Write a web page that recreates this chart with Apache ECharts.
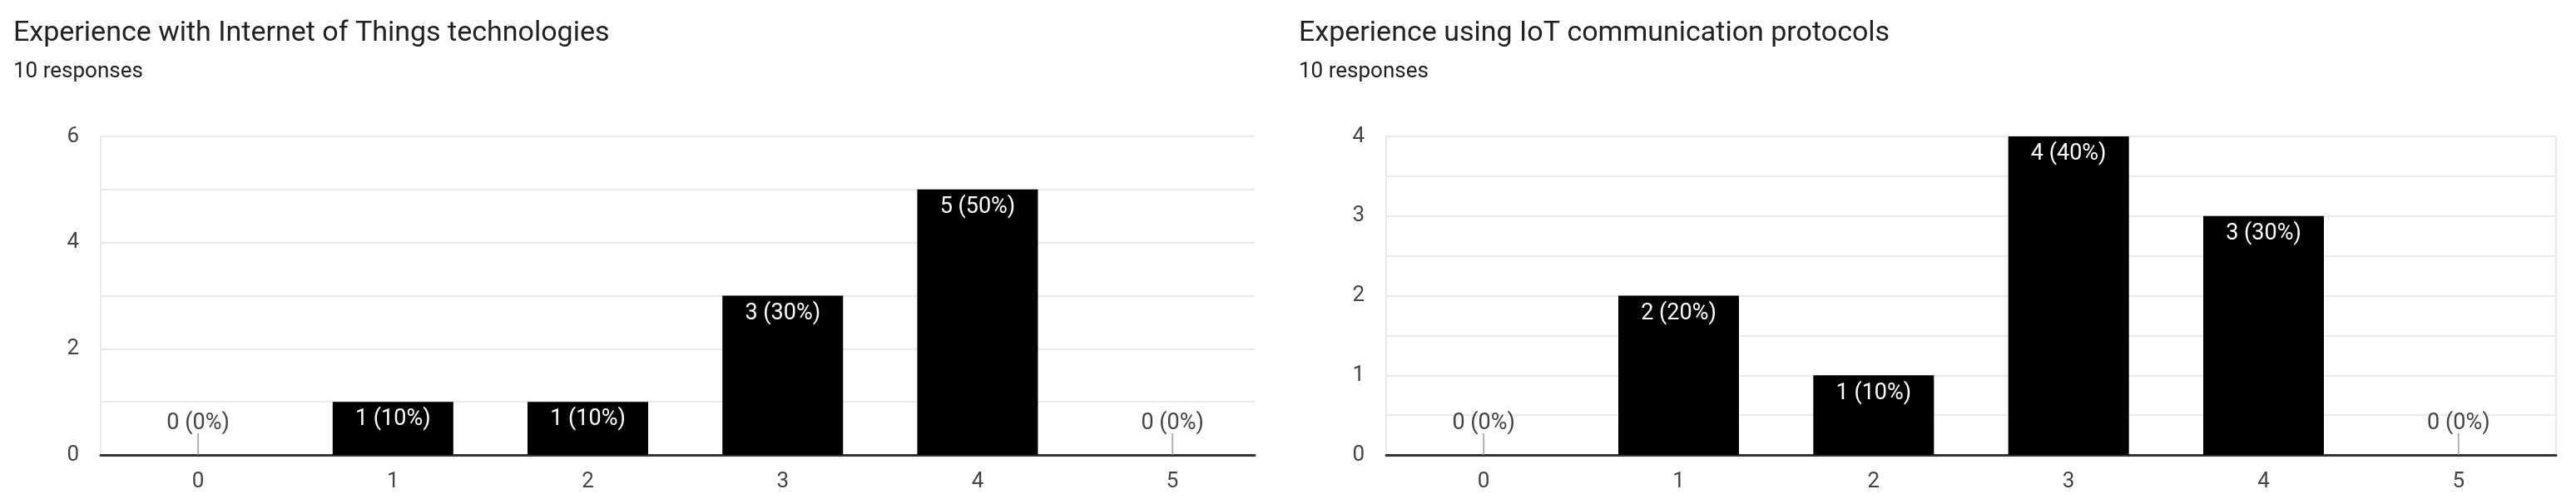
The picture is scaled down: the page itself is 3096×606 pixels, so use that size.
<!DOCTYPE html>
<html>
<head>
<meta charset="utf-8">
<script src="https://cdn.jsdelivr.net/npm/echarts@6/dist/echarts.min.js"></script>
<style>
html,body{margin:0;padding:0;background:#fff;}
#c{width:3096px;height:606px;}
</style>
</head>
<body>
<div id="c"></div>
<script>
const categories = ['0', '1', '2', '3', '4', '5'];
const titles = ['Experience with Internet of Things technologies', 'Experience using IoT communication protocols'];
const responses = [10, 10];
const valuesTech = [0, 1, 1, 3, 5, 0];
const valuesProto = [0, 2, 1, 4, 3, 0];
const yTicksTech = [0, 2, 4, 6];
const yTicksProto = [0, 1, 2, 3, 4];

const FONT = 'Roboto';
const chart = echarts.init(document.getElementById('c'), null, {renderer: 'canvas'});

function barData(values) {
  return values.map((v, i) => ({
    value: [i, v],
    label: v === 0
      ? {position: 'top', distance: 24, color: '#444'}
      : {position: 'insideTop', distance: 8, color: '#fff'}
  }));
}
function zeroData(values) {
  return values.map((v, i) => [i, v]).filter(d => d[1] === 0);
}
function labelFmt(total) {
  return p => p.value[1] + ' (' + Math.round(p.value[1] / total * 100) + '%)';
}

const panels = [
  {values: valuesTech, ticks: yTicksTech, max: 6, step: 1, left: 121, width: 1387, xmax: 5.422, rightLine: false},
  {values: valuesProto, ticks: yTicksProto, max: 4, step: 0.5, left: 1666, width: 1406, xmax: 5.5, rightLine: true}
];

const option = {
  animation: false,
  title: titles.map((t, k) => ({
    text: t,
    subtext: responses[k] + ' responses',
    left: k === 0 ? 11 : 1556,
    top: 15,
    itemGap: 11,
    textStyle: {fontFamily: FONT, fontSize: 34, fontWeight: 400, color: '#202124', lineHeight: 40},
    subtextStyle: {fontFamily: FONT, fontSize: 26, color: '#202124', lineHeight: 30}
  })),
  grid: panels.map(p => ({left: p.left, width: p.width, top: 164, height: 383, containLabel: false})),
  xAxis: panels.map((p, k) => ({
    type: 'value', gridIndex: k, min: -0.5, max: p.xmax,
    splitLine: {show: false},
    axisTick: {show: false},
    axisLine: {show: true, onZero: false, lineStyle: {color: '#333', width: 3}},
    axisLabel: {
      show: true, customValues: categories.map((c, i) => i),
      formatter: v => categories[v], margin: 19,
      fontFamily: FONT, fontSize: 26, color: '#444'
    }
  })),
  yAxis: panels.map((p, k) => ({
    type: 'value', gridIndex: k, min: 0, max: p.max, interval: p.step,
    axisLine: {show: true, onZero: false, lineStyle: {color: '#ebebeb', width: 2}},
    axisTick: {show: false},
    splitLine: {show: true, lineStyle: {color: '#ebebeb', width: 2}},
    axisLabel: {
      margin: 26, fontFamily: FONT, fontSize: 26, color: '#444',
      formatter: v => p.ticks.indexOf(v) >= 0 ? String(v) : ''
    }
  })).concat(panels.filter(p => p.rightLine).map(p => ({
    type: 'value', gridIndex: panels.indexOf(p), position: 'right', min: 0, max: p.max,
    axisLine: {show: true, onZero: false, lineStyle: {color: '#ebebeb', width: 2}},
    axisTick: {show: false}, axisLabel: {show: false}, splitLine: {show: false}
  }))),
  series: []
};

panels.forEach((p, k) => {
  const total = responses[k];
  option.series.push({
    type: 'bar', xAxisIndex: k, yAxisIndex: k,
    data: barData(p.values),
    barWidth: 145,
    itemStyle: {color: '#000'},
    label: {show: true, formatter: labelFmt(total), fontFamily: FONT, fontSize: 27, lineHeight: 27},
    silent: true
  });
  option.series.push({
    type: 'scatter', xAxisIndex: k, yAxisIndex: k,
    data: zeroData(p.values),
    symbol: 'rect', symbolSize: [2, 26], symbolOffset: [0, -13],
    itemStyle: {color: '#9e9e9e'},
    silent: true, z: 1
  });
});

chart.setOption(option);
</script>
</body>
</html>
